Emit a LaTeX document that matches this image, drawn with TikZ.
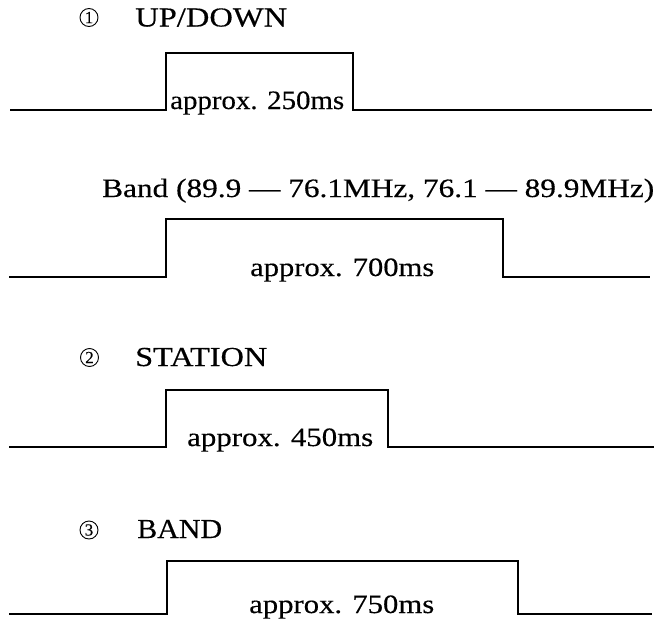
\documentclass[tikz,border=0pt]{standalone}
\usepackage{fontspec}
\setmainfont{Liberation Serif}[UprightFeatures={FakeBold=0.35}]
\usepackage{graphicx}
\newcommand{\fitw}[2]{\resizebox{#1}{\height}{#2}}
\tikzset{
  wave/.style={line width=1.7pt, line join=miter, line cap=butt},
  lbl/.style={inner sep=0pt, anchor=base west, font=\fontsize{26.5pt}{30pt}\selectfont},
  ttl/.style={inner sep=0pt, anchor=base west, font=\fontsize{27.5pt}{31pt}\selectfont},
  num/.style={circle, draw, line width=0.9pt, inner sep=0pt, minimum size=18pt, font=\fontsize{17pt}{19pt}\selectfont}
}
\begin{document}
\begin{tikzpicture}[x=1pt,y=-1pt]
\useasboundingbox (0,0) rectangle (664,621);

% ---- 1 UP/DOWN ----
\node[num] (n1) at (89,17.5) {1};
\node[ttl] (t1) at (135,26.5) {\fitw{152pt}{UP/DOWN}};
\coordinate (a1) at (10,110);
\coordinate (b1) at (166,110);
\coordinate (c1) at (166,53);
\coordinate (d1) at (353,53);
\coordinate (e1) at (353,110);
\coordinate (f1) at (652,110);
\draw[wave] (a1) -- (b1) -- (c1) -- (d1) -- (e1) -- (f1);
\node[lbl] (l1) at (170,109) {\fitw{174pt}{approx. 250ms}};

% ---- Band ----
\node[lbl] (tb) at (102,197) {\fitw{552pt}{Band (89.9 — 76.1MHz, 76.1 — 89.9MHz)}};
\coordinate (a2) at (9,277);
\coordinate (b2) at (166,277);
\coordinate (c2) at (166,219);
\coordinate (d2) at (503,219);
\coordinate (e2) at (503,277);
\coordinate (f2) at (650,277);
\draw[wave] (a2) -- (b2) -- (c2) -- (d2) -- (e2) -- (f2);
\node[lbl] (l2) at (250,276) {\fitw{184pt}{approx. 700ms}};

% ---- 2 STATION ----
\node[num] (n2) at (89.5,357.5) {2};
\node[ttl] (t2) at (135,366) {\fitw{132pt}{STATION}};
\coordinate (a3) at (9,447);
\coordinate (b3) at (166,447);
\coordinate (c3) at (166,390);
\coordinate (d3) at (388,390);
\coordinate (e3) at (388,447);
\coordinate (f3) at (654,447);
\draw[wave] (a3) -- (b3) -- (c3) -- (d3) -- (e3) -- (f3);
\node[lbl] (l3) at (187,446) {\fitw{186pt}{approx. 450ms}};

% ---- 3 BAND ----
\node[num] (n3) at (89,530) {3};
\node[ttl] (t3) at (137,538) {\fitw{85pt}{BAND}};
\coordinate (a4) at (9,614);
\coordinate (b4) at (167,614);
\coordinate (c4) at (167,561);
\coordinate (d4) at (518,561);
\coordinate (e4) at (518,614);
\coordinate (f4) at (652,614);
\draw[wave] (a4) -- (b4) -- (c4) -- (d4) -- (e4) -- (f4);
\node[lbl] (l4) at (249,613) {\fitw{185pt}{approx. 750ms}};
\end{tikzpicture}
\end{document}
